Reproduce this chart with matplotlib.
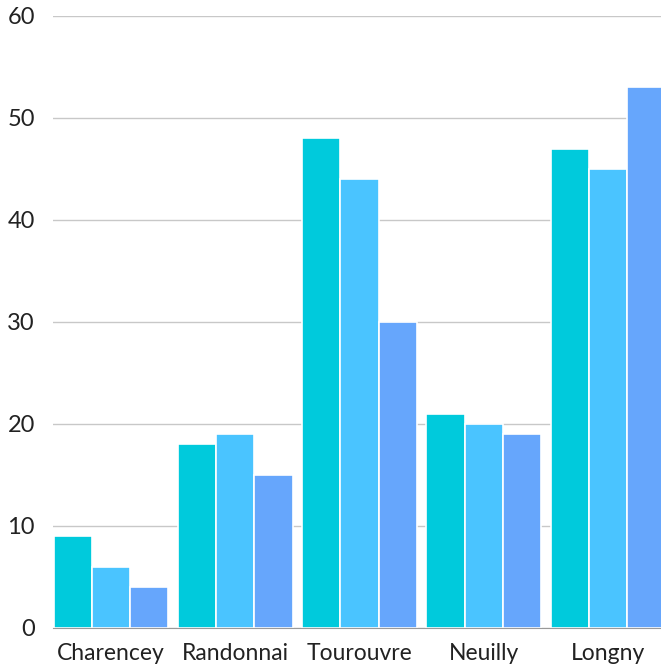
import matplotlib
matplotlib.use("Agg")
import matplotlib.pyplot as plt
import numpy as np

categories = ["Charencey", "Randonnai", "Tourouvre", "Neuilly", "Longny"]
series1 = [9, 18, 48, 21, 47]
series2 = [6, 19, 44, 20, 45]
series3 = [4, 15, 30, 19, 53]
colors = ["#00CADC", "#4AC4FF", "#66A6FC"]

plt.rcParams['font.family'] = ['Lato', 'DejaVu Sans']

fig = plt.figure(figsize=(6.61, 6.68), dpi=100)
ax = fig.add_axes([53/661, 40/668, 608/661, 612/668])

x = np.arange(len(categories))
w = 0.308
for k, (vals, c) in enumerate(zip([series1, series2, series3], colors)):
    ax.bar(x + (k - 1) * w, vals, width=w, color=c, edgecolor="white",
           linewidth=1.2, zorder=3)

ax.set_ylim(0, 60)
ax.set_xlim(-0.4666, 4.4248)
ax.set_yticks([0, 10, 20, 30, 40, 50, 60])
ax.yaxis.grid(True, color="#c8c8c8", linewidth=1, zorder=0)
ax.set_axisbelow(True)
for s in ["top", "right", "left"]:
    ax.spines[s].set_visible(False)
ax.spines["bottom"].set_color("#999999")
ax.spines["bottom"].set_zorder(4)
ax.set_xticks(x)
ax.set_xticklabels(categories, fontsize=16.5, color="#222222")
ax.tick_params(axis="both", length=0)
ax.tick_params(axis="y", pad=13, labelsize=17, labelcolor="#222222")
ax.tick_params(axis="x", pad=11)

fig.savefig("out.png", dpi=100)
